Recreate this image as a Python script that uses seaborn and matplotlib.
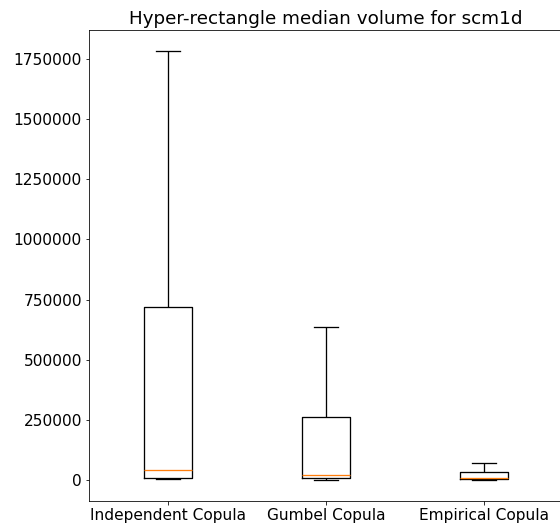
import numpy as np
import pandas as pd
import matplotlib
matplotlib.use("Agg")
import matplotlib.pyplot as plt
import seaborn as sns

categories = ["Independent Copula", "Gumbel Copula", "Empirical Copula"]
# five-number summaries: min, q1, median, q3, max
independent = [1000, 9000, 40000, 720000, 1783000]
gumbel = [500, 7000, 20000, 260000, 636000]
empirical = [500, 5000, 7000, 31000, 68000]

df = pd.DataFrame({
    "method": np.repeat(categories, 5),
    "volume": independent + gumbel + empirical,
})

DPI = 72
plt.rcParams["font.size"] = 15.4
fig = plt.figure(figsize=(560 / DPI, 525 / DPI), dpi=DPI)
ax = fig.add_axes([89 / 560, 1 - 501 / 525, (563 - 89) / 560, (501 - 30) / 525])

sns.boxplot(
    data=df, x="method", y="volume", ax=ax, order=categories,
    whis=(0, 100), width=0.3, fill=False, color="black", linewidth=1.3,
    medianprops={"color": "#ff7f0e"}, showfliers=False,
)
ax.set_xlabel("")
ax.set_ylabel("")
ax.ticklabel_format(axis="y", style="plain")
ax.tick_params(labelsize=15.4)
ax.set_title("Hyper-rectangle median volume for scm1d", fontsize=18.4)
for s in ax.spines.values():
    s.set_visible(True)
    s.set_color("black")
fig.savefig("out.png", dpi=DPI)
